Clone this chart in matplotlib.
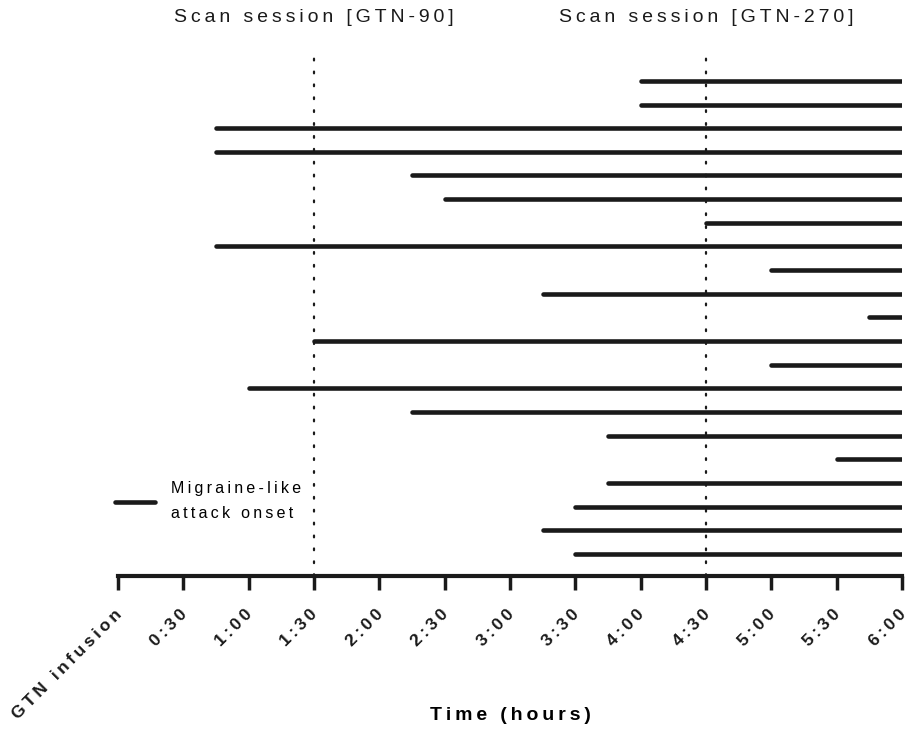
import numpy as np
import matplotlib.pyplot as plt
import matplotlib.transforms as mtransforms
from matplotlib.lines import Line2D

plt.rcParams['font.family'] = ['Liberation Sans', 'DejaVu Sans']

# onset time of each patient's migraine-like attack (hours after GTN), top to bottom
onset = [4.0, 4.0, 0.75, 0.75, 2.25, 2.5, 4.5, 0.75, 5.0, 3.25, 5.75,
         1.5, 5.0, 1.0, 2.25, 3.75, 5.5, 3.75, 3.5, 3.25, 3.5]
end_time = 6.0
scan_times = [1.5, 4.5]
scan_labels = ['Scan session [GTN-90]', 'Scan session [GTN-270]']
tick_pos = np.arange(0, 6.01, 0.5)
tick_labels = ['GTN infusion', '0:30', '1:00', '1:30', '2:00', '2:30', '3:00',
               '3:30', '4:00', '4:30', '5:00', '5:30', '6:00']


def spaced(s):
    # wide letter spacing like the original (Prism style)
    return '\n'.join('\u2009'.join(line) for line in s.split('\n'))


fig = plt.figure(figsize=(9.09, 7.31), dpi=100)
ax = fig.add_axes([0.1298, 0.212, 0.8625, 0.713])

n = len(onset)
ypos = np.arange(n, 0, -1)
for y, s in zip(ypos, onset):
    ax.plot([s, end_time], [y, y], color='#1a1a1a', lw=3.3, solid_capstyle='round')

for t, lab in zip(scan_times, scan_labels):
    ax.axvline(t, color='#1a1a1a', lw=1.6, ls=(0, (0.8, 5)), dash_capstyle='round')
    ax.text(t, 1.055, spaced(lab), transform=ax.get_xaxis_transform(), ha='center',
            va='bottom', fontsize=14, color='#1a1a1a')

ax.set_xlim(0, 6)
ax.set_ylim(0.07, 22.1)
ax.set_xticks(tick_pos)
ax.set_xticklabels([spaced(t) for t in tick_labels], rotation=45, ha='right',
                   rotation_mode='anchor', fontsize=12.5, fontweight='bold')
ax.tick_params(axis='x', length=10, width=2.5, pad=12, colors='#1a1a1a')
shift = mtransforms.ScaledTranslation(-4 / 100, 0, fig.dpi_scale_trans)
for lab in ax.get_xticklabels():
    lab.set_transform(lab.get_transform() + shift)
ax.set_yticks([])
for side in ['left', 'right', 'top']:
    ax.spines[side].set_visible(False)
ax.spines['bottom'].set_linewidth(3)
ax.spines['bottom'].set_color('#1a1a1a')
ax.set_xlabel(spaced('Time (hours)'), fontsize=14, fontweight='bold')
ax.xaxis.set_label_coords(0.5, -0.251)

h = Line2D([], [], color='#1a1a1a', lw=3.3, solid_capstyle='round')
leg = ax.legend([h], [spaced('Migraine-like\nattack onset')], loc='lower left',
                bbox_to_anchor=(-0.004, 0.105), frameon=False, handlelength=2.5,
                fontsize=11.5, handletextpad=1.0, borderpad=0, borderaxespad=0)
for t in leg.get_texts():
    t.set_linespacing(1.85)

fig.savefig('out.png', dpi=100)
